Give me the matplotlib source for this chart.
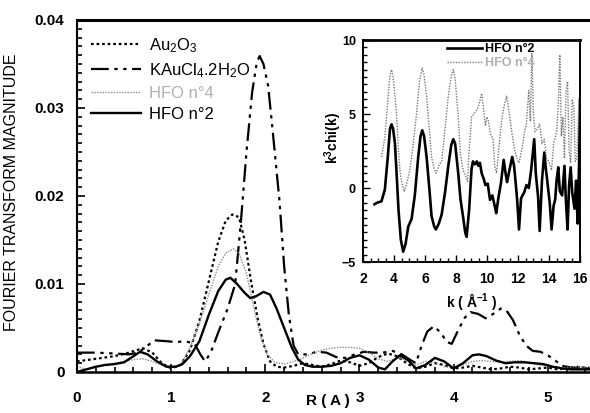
import matplotlib
matplotlib.use("Agg")
import matplotlib.pyplot as plt
from matplotlib.ticker import MultipleLocator

plt.rcParams['font.family'] = ['Liberation Sans', 'DejaVu Sans']
plt.rcParams['mathtext.fontset'] = 'custom'
plt.rcParams['mathtext.rm'] = 'Liberation Sans'
plt.rcParams['mathtext.it'] = 'Liberation Sans:italic'
plt.rcParams['mathtext.bf'] = 'Liberation Sans:bold'
plt.rcParams['mathtext.default'] = 'regular'

# ---------------- main panel data (Fourier transform magnitude vs R) ----------------
r_au2o3 = [0.0, 0.2, 0.4, 0.55, 0.7, 0.8, 0.9, 1.0, 1.1, 1.2, 1.3, 1.4, 1.5, 1.58, 1.65, 1.72,
           1.78, 1.85, 1.92, 1.98, 2.05, 2.12, 2.2, 2.3, 2.4, 2.5, 2.6, 2.7, 2.8, 2.9, 3.0, 3.1,
           3.2, 3.3, 3.4, 3.5, 3.6, 3.7, 3.8, 3.9, 4.0, 4.1, 4.2, 4.3, 4.4, 4.5, 4.6, 4.7, 4.8,
           4.9, 5.0, 5.1, 5.2, 5.3, 5.4, 5.5]
ft_au2o3 = [0.0012, 0.0015, 0.0018, 0.0022, 0.0027, 0.0022, 0.0010, 0.0004, 0.0008, 0.0025,
            0.0058, 0.0103, 0.0148, 0.0172, 0.0179, 0.0176, 0.0150, 0.0102, 0.0060, 0.0032,
            0.0012, 0.0006, 0.0005, 0.0007, 0.0010, 0.0008, 0.0006, 0.0009, 0.0013, 0.0011,
            0.0007, 0.0010, 0.0017, 0.0021, 0.0018, 0.0010, 0.0004, 0.0006, 0.0010, 0.0008,
            0.0004, 0.0005, 0.0007, 0.0005, 0.0003, 0.0004, 0.0006, 0.0005, 0.0003, 0.0004,
            0.0005, 0.0003, 0.0004, 0.0006, 0.0005, 0.0004]

r_kaucl4 = [0.0, 0.2, 0.4, 0.55, 0.65, 0.75, 0.82, 0.95, 1.05, 1.15, 1.25, 1.31, 1.36, 1.42,
            1.5, 1.6, 1.68, 1.74, 1.8, 1.86, 1.91, 1.94, 1.98, 2.03, 2.08, 2.15, 2.2, 2.25,
            2.3, 2.35, 2.45, 2.55, 2.65, 2.75, 2.85, 2.95, 3.05, 3.15, 3.25, 3.35, 3.45, 3.55,
            3.6, 3.66, 3.72, 3.79, 3.86, 3.93, 3.98, 4.05, 4.12, 4.18, 4.26, 4.34, 4.42, 4.5,
            4.56, 4.63, 4.7, 4.77, 4.84, 4.92, 5.0, 5.08, 5.15, 5.25, 5.35, 5.45]
ft_kaucl4 = [0.0022, 0.0022, 0.0021, 0.0020, 0.0022, 0.0030, 0.0036, 0.0035, 0.0034, 0.0035,
             0.0032, 0.0020, 0.0012, 0.0022, 0.0045, 0.0072, 0.0100, 0.0170, 0.0250, 0.0318,
             0.0352, 0.0359, 0.0350, 0.0325, 0.0272, 0.0195, 0.0120, 0.0065, 0.0030, 0.0020,
             0.0020, 0.0023, 0.0022, 0.0017, 0.0016, 0.0020, 0.0023, 0.0022, 0.0022, 0.0024,
             0.0020, 0.0013, 0.0010, 0.0030, 0.0046, 0.0052, 0.0045, 0.0034, 0.0032, 0.0048,
             0.0062, 0.0068, 0.0066, 0.0061, 0.0066, 0.0072, 0.0070, 0.0059, 0.0042, 0.0030,
             0.0024, 0.0023, 0.0019, 0.0013, 0.0007, 0.0005, 0.0005, 0.0004]

r_hfo4 = [0.0, 0.1, 0.2, 0.3, 0.4, 0.5, 0.6, 0.7, 0.8, 0.9, 1.0, 1.1, 1.2, 1.3, 1.4, 1.5, 1.58,
          1.66, 1.72, 1.8, 1.88, 1.95, 2.02, 2.1, 2.2, 2.3, 2.4, 2.5, 2.6, 2.7, 2.8, 2.9, 3.0,
          3.1, 3.2, 3.3, 3.4, 3.5, 3.6, 3.7, 3.8, 3.9, 4.0, 4.1, 4.2, 4.3, 4.4, 4.5, 4.6, 4.7,
          4.8, 4.9, 5.0, 5.1, 5.2, 5.3, 5.4, 5.5]
ft_hfo4 = [0.0006, 0.0003, 0.0005, 0.0008, 0.0010, 0.0012, 0.0014, 0.0015, 0.0012, 0.0008,
           0.0005, 0.0008, 0.0028, 0.0055, 0.0088, 0.0120, 0.0135, 0.0140, 0.0135, 0.0112,
           0.0072, 0.0040, 0.0020, 0.0011, 0.0009, 0.0012, 0.0016, 0.0021, 0.0025, 0.0027,
           0.0028, 0.0028, 0.0027, 0.0022, 0.0015, 0.0012, 0.0016, 0.0014, 0.0008, 0.0012,
           0.0011, 0.0006, 0.0005, 0.0008, 0.0012, 0.0013, 0.0012, 0.0011, 0.0012, 0.0013,
           0.0011, 0.0008, 0.0007, 0.0006, 0.0005, 0.0006, 0.0005, 0.0005]

r_hfo2 = [0.0, 0.1, 0.2, 0.3, 0.4, 0.5, 0.6, 0.67, 0.75, 0.85, 0.95, 1.05, 1.12, 1.2, 1.3, 1.4,
          1.5, 1.58, 1.63, 1.7, 1.78, 1.84, 1.9, 1.98, 2.05, 2.12, 2.2, 2.28, 2.35, 2.42, 2.5,
          2.6, 2.7, 2.8, 2.9, 3.0, 3.1, 3.2, 3.27, 3.35, 3.43, 3.52, 3.6, 3.7, 3.8, 3.9, 4.0,
          4.1, 4.2, 4.27, 4.35, 4.45, 4.55, 4.65, 4.75, 4.85, 4.95, 5.05, 5.15, 5.25, 5.35, 5.45]
ft_hfo2 = [0.0, 0.0003, 0.0006, 0.0008, 0.0009, 0.0011, 0.0018, 0.0023, 0.0020, 0.0012, 0.0006,
           0.0006, 0.0009, 0.0018, 0.0035, 0.0065, 0.0092, 0.0105, 0.0107, 0.0100, 0.0090,
           0.0084, 0.0086, 0.0091, 0.0088, 0.0072, 0.0050, 0.0028, 0.0014, 0.0008, 0.0006,
           0.0006, 0.0007, 0.0010, 0.0016, 0.0019, 0.0014, 0.0005, 0.0003, 0.0012, 0.0019,
           0.0013, 0.0004, 0.0008, 0.0016, 0.0012, 0.0004, 0.0010, 0.0019, 0.0020, 0.0018,
           0.0013, 0.0010, 0.0011, 0.0011, 0.0010, 0.0009, 0.0006, 0.0004, 0.0003, 0.0003, 0.0003]

labels_main = ["Au$_2$O$_3$", "KAuCl$_4$.2H$_2$O", "HFO n°4", "HFO n°2"]

# ---------------- inset data (k^3 chi(k) vs k) ----------------
k_hfo2 = [2.75, 2.9, 3.2, 3.42, 3.6, 3.75, 3.85, 3.95, 4.07, 4.2, 4.3, 4.45, 4.6, 4.75, 4.93,
          5.14, 5.35, 5.57, 5.72, 5.83, 5.95, 6.11, 6.3, 6.43, 6.6, 6.71, 6.9, 7.08, 7.3, 7.51,
          7.7, 7.83, 7.95, 8.15, 8.3, 8.47, 8.6, 8.69, 8.85, 9.01, 9.1, 9.23, 9.35, 9.45, 9.55,
          9.66, 9.8, 9.9, 10.05, 10.2, 10.35, 10.5, 10.6, 10.75, 10.9, 11.0, 11.08, 11.2, 11.3,
          11.45, 11.63, 11.75, 11.85, 11.95, 12.07, 12.2, 12.4, 12.55, 12.7, 12.85, 13.05,
          13.15, 13.3, 13.4, 13.55, 13.7, 13.8, 13.9, 14.05, 14.17, 14.3, 14.4, 14.5, 14.6,
          14.7, 14.85, 15.0, 15.1, 15.2, 15.3, 15.4, 15.5, 15.65, 15.75, 15.85, 15.95, 16.0]
chi_hfo2 = [-1.1, -1.0, -0.9, -0.1, 2.0, 4.0, 4.3, 4.0, 3.0, 0.5, -1.5, -3.5, -4.3, -3.8, -2.6,
            -2.1, -0.5, 2.1, 3.5, 3.9, 3.5, 2.1, -0.2, -1.9, -2.6, -2.8, -2.4, -1.8, -0.3, 1.5,
            2.9, 3.3, 3.0, 1.0, -0.8, -2.0, -3.0, -3.3, -1.5, 1.3, 1.8, 1.6, 1.8, 1.5, 1.7,
            1.0, 0.6, 0.2, 0.3, -0.8, -0.5, -1.2, -1.7, -0.6, 0.3, 1.2, 1.9, 1.0, 0.4,
            1.2, 2.1, 1.5, 0.4, -0.8, -2.8, -0.7, -0.3, 0.2, 0.0, 1.2, 3.3,
            1.0, -0.6, -2.9, 0.5, 2.4, 1.3, 0.4, -1.0, -2.8, -1.2, -0.8, 0.6, 1.4,
            -0.2, -0.5, 1.5, -1.0, -2.8, 0.2, 1.4, -0.3, -1.4, 0.5, -2.4, 2.0, 6.0]

k_hfo4 = [3.2, 3.42, 3.6, 3.75, 3.85, 3.95, 4.07, 4.17, 4.3, 4.39, 4.5, 4.67, 4.85, 5.03, 5.25,
          5.46, 5.65, 5.83, 5.95, 6.11, 6.3, 6.43, 6.6, 6.71, 6.9, 7.08, 7.3, 7.51, 7.7, 7.83,
          7.95, 8.15, 8.3, 8.47, 8.6, 8.75, 8.85, 9.01, 9.15, 9.3, 9.45, 9.55, 9.66, 9.8, 9.9,
          10.0, 10.1, 10.25, 10.4, 10.5, 10.62, 10.75, 10.95, 11.1, 11.27, 11.45, 11.6, 11.8,
          11.95, 12.07, 12.25, 12.4, 12.55, 12.7, 12.8, 12.9, 13.0, 13.1, 13.25, 13.4, 13.55,
          13.7, 13.85, 14.0, 14.17, 14.3, 14.5, 14.6, 14.7, 14.8, 14.9, 15.0, 15.1, 15.2, 15.3,
          15.4, 15.5, 15.6, 15.7, 15.8, 15.9, 16.0]
chi_hfo4 = [2.1, 3.4, 5.8, 7.6, 8.0, 7.5, 6.2, 5.0, 2.5, 1.2, 0.4, -0.25, 0.4, 1.2, 3.0,
            5.0, 7.2, 8.1, 7.6, 6.2, 3.8, 2.1, 1.3, 1.0, 1.5, 1.8, 4.0, 6.2, 7.6, 8.0,
            7.4, 4.8, 2.2, 1.2, 0.9, 0.45, 2.5, 4.8, 5.0, 5.2, 5.5, 5.9, 6.4, 5.2, 4.2,
            4.8, 4.5, 3.6, 3.3, 1.5, 1.0, 2.5, 4.6, 5.5, 6.2, 5.0, 3.8, 2.5,
            2.0, 1.7, 2.6, 3.6, 4.4, 6.6, 4.5, 9.1, 5.0, 3.8, 4.0, 4.3, 3.0,
            3.3, 2.0, 1.8, 1.2, 3.0, 3.8, 5.5, 9.0, 3.5, 4.8, 2.0, 6.5, 7.2, 2.5,
            1.7, 6.0, 5.5, 1.8, 2.0, 5.0, 4.5]

labels_inset = ["HFO n°2", "HFO n°4"]

# ---------------- figure ----------------
fig = plt.figure(figsize=(5.9, 4.13), dpi=100)
ax = fig.add_axes([0.1305, 0.0993, 0.873, 0.8523])

ax.plot(r_au2o3, ft_au2o3, color='black', lw=1.6, ls=(0, (1.2, 1.3)), label=labels_main[0])
ax.plot(r_kaucl4, ft_kaucl4, color='black', lw=1.6, ls=(0, (8, 2.5, 1.5, 2.5, 1.5, 2.5)),
        label=labels_main[1])
ax.plot(r_hfo4, ft_hfo4, color='#8a8a8a', lw=1.0, ls=(0, (1, 1)), label=labels_main[2])
ax.plot(r_hfo2, ft_hfo2, color='black', lw=1.7, ls='-', label=labels_main[3])

ax.set_xlim(0, 5.47)
ax.set_ylim(0, 0.04)
ax.set_xticks([0, 1, 2, 3, 4, 5])
ax.set_yticks([0, 0.01, 0.02, 0.03, 0.04])
ax.set_yticklabels(['0', '0.01', '0.02', '0.03', '0.04'])
ax.xaxis.set_minor_locator(MultipleLocator(0.2))
ax.yaxis.set_minor_locator(MultipleLocator(0.001))
ax.tick_params(which='both', direction='in', top=False, right=False, width=1.2)
ax.tick_params(which='major', length=6)
ax.tick_params(which='minor', length=3.5)
ax.tick_params(axis='y', which='major', pad=9, labelsize=11)
ax.tick_params(axis='x', which='major', pad=14, labelsize=11)
for t in ax.get_xticklabels() + ax.get_yticklabels():
    t.set_fontweight('bold')
ax.spines['right'].set_visible(False)
ax.spines['top'].set_linewidth(2.2)
ax.spines['left'].set_linewidth(1.5)
ax.spines['bottom'].set_linewidth(1.8)

ax.set_ylabel("FOURIER TRANSFORM MAGNITUDE", fontsize=11.5)
ax.yaxis.set_label_coords(-0.113, 0.51)
fig.text(0.556, 0.012, "R ( A )", fontsize=11, fontweight='bold', ha='center', va='bottom')

leg = ax.legend(loc='upper left', bbox_to_anchor=(0.028, 0.955), frameon=False, fontsize=12,
                handlelength=3.0, handletextpad=0.45, labelspacing=0.38, borderpad=0,
                borderaxespad=0)
for txt in leg.get_texts():
    if txt.get_text() == "HFO n°4":
        txt.set_color('#b0b0b0')

# ---------------- inset ----------------
ins = fig.add_axes([0.615, 0.3656, 0.368, 0.5375])
ins.plot(k_hfo2, chi_hfo2, color='black', lw=1.9, ls='-', label=labels_inset[0])
ins.plot(k_hfo4, chi_hfo4, color='#7a7a7a', lw=1.0, ls=(0, (1, 1)), label=labels_inset[1])
ins.set_xlim(2, 16)
ins.set_ylim(-5, 10)
ins.set_xticks([2, 4, 6, 8, 10, 12, 14, 16])
ins.set_yticks([-5, 0, 5, 10])
ins.xaxis.set_minor_locator(MultipleLocator(0.5))
ins.yaxis.set_minor_locator(MultipleLocator(0.5))
ins.tick_params(which='both', direction='in', top=False, right=False, width=1.0)
ins.tick_params(which='major', length=5)
ins.tick_params(which='minor', length=3)
ins.tick_params(axis='x', which='major', pad=7, labelsize=10)
ins.tick_params(axis='y', which='major', pad=5, labelsize=9)
for t in ins.get_xticklabels() + ins.get_yticklabels():
    t.set_fontweight('bold')
for s in ins.spines.values():
    s.set_linewidth(1.4)
ins.spines['top'].set_linewidth(2.0)
ins.set_ylabel("k$^3$chi(k)", fontsize=10, fontweight='bold')
ins.yaxis.set_label_coords(-0.085, 0.56)
ins.set_xlabel("k ( Å$^{-1}$ )", fontsize=10, fontweight='bold', labelpad=4)

leg2 = ins.legend(loc='upper right', bbox_to_anchor=(0.79, 0.985), frameon=False,
                  prop={'weight': 'bold', 'size': 9}, handlelength=2.8, handletextpad=0.2,
                  labelspacing=0.15, borderpad=0, borderaxespad=0)
for txt in leg2.get_texts():
    if txt.get_text() == "HFO n°4":
        txt.set_color('#b0b0b0')

fig.savefig("out.png", dpi=100)
